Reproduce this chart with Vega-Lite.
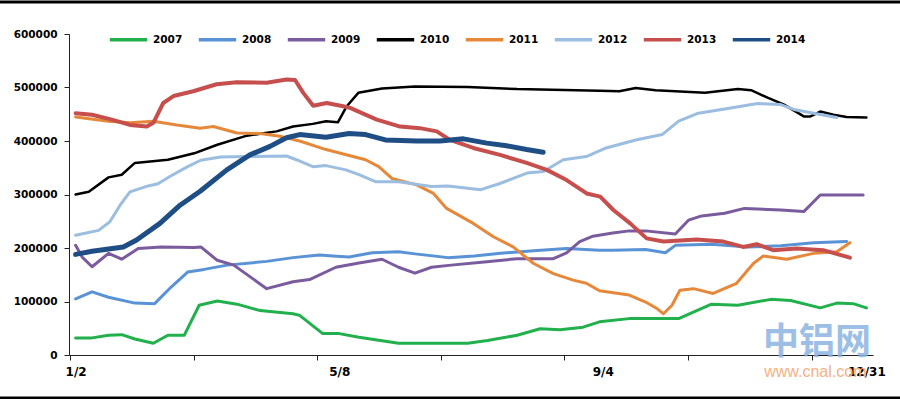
{
  "$schema": "https://vega.github.io/schema/vega-lite/v6.json",
  "width": 804,
  "height": 321,
  "autosize": {"type": "none"},
  "padding": {"left": 69, "top": 34, "right": 27, "bottom": 44},
  "background": "white",
  "config": {"view": {"stroke": null}},
  "datasets": {
    "stock": [
      {"year":"2007","day":2,"v":32000},{"year":"2007","day":7,"v":32000},{"year":"2007","day":12,"v":37000},{"year":"2007","day":16,"v":38000},{"year":"2007","day":20,"v":30000},{"year":"2007","day":25.6,"v":22000},{"year":"2007","day":30,"v":37000},{"year":"2007","day":35,"v":37000},{"year":"2007","day":39.5,"v":93000},{"year":"2007","day":45,"v":101000},{"year":"2007","day":51,"v":95000},{"year":"2007","day":58,"v":83000},{"year":"2007","day":68,"v":77000},{"year":"2007","day":70,"v":74000},{"year":"2007","day":77,"v":40000},{"year":"2007","day":82,"v":40000},{"year":"2007","day":88,"v":33000},{"year":"2007","day":100,"v":22000},{"year":"2007","day":121,"v":22000},{"year":"2007","day":127,"v":27000},{"year":"2007","day":136,"v":37000},{"year":"2007","day":143,"v":49000},{"year":"2007","day":149,"v":47000},{"year":"2007","day":156,"v":52000},{"year":"2007","day":161,"v":62000},{"year":"2007","day":170,"v":68000},{"year":"2007","day":185,"v":68000},{"year":"2007","day":195,"v":95000},{"year":"2007","day":203,"v":93000},{"year":"2007","day":213,"v":104000},{"year":"2007","day":219,"v":102000},{"year":"2007","day":228,"v":88000},{"year":"2007","day":233,"v":97000},{"year":"2007","day":238,"v":96000},{"year":"2007","day":242,"v":88000},

      {"year":"2008","day":2,"v":105000},{"year":"2008","day":7,"v":118000},{"year":"2008","day":12,"v":108000},{"year":"2008","day":20,"v":97000},{"year":"2008","day":26,"v":96000},{"year":"2008","day":31,"v":127000},{"year":"2008","day":36,"v":155000},{"year":"2008","day":41,"v":160000},{"year":"2008","day":48,"v":168000},{"year":"2008","day":60,"v":175000},{"year":"2008","day":68,"v":182000},{"year":"2008","day":76,"v":187000},{"year":"2008","day":80,"v":185000},{"year":"2008","day":85,"v":183000},{"year":"2008","day":92,"v":191000},{"year":"2008","day":100,"v":193000},{"year":"2008","day":105,"v":189000},{"year":"2008","day":115,"v":182000},{"year":"2008","day":123,"v":185000},{"year":"2008","day":131,"v":190000},{"year":"2008","day":141,"v":195000},{"year":"2008","day":151,"v":199000},{"year":"2008","day":161,"v":196000},{"year":"2008","day":165,"v":196000},{"year":"2008","day":175,"v":197000},{"year":"2008","day":181,"v":191000},{"year":"2008","day":184,"v":205000},{"year":"2008","day":195,"v":207000},{"year":"2008","day":206,"v":202000},{"year":"2008","day":216,"v":204000},{"year":"2008","day":226,"v":210000},{"year":"2008","day":236,"v":212000},

      {"year":"2009","day":2,"v":205000},{"year":"2009","day":4,"v":183000},{"year":"2009","day":7,"v":165000},{"year":"2009","day":12,"v":190000},{"year":"2009","day":16,"v":179000},{"year":"2009","day":21,"v":199000},{"year":"2009","day":28,"v":202000},{"year":"2009","day":38,"v":201000},{"year":"2009","day":40,"v":202000},{"year":"2009","day":45,"v":177000},{"year":"2009","day":50,"v":168000},{"year":"2009","day":55,"v":146000},{"year":"2009","day":60,"v":124000},{"year":"2009","day":68,"v":137000},{"year":"2009","day":73,"v":141000},{"year":"2009","day":81,"v":164000},{"year":"2009","day":88,"v":172000},{"year":"2009","day":95,"v":179000},{"year":"2009","day":100,"v":164000},{"year":"2009","day":105,"v":153000},{"year":"2009","day":110,"v":164000},{"year":"2009","day":116,"v":168000},{"year":"2009","day":126,"v":174000},{"year":"2009","day":136,"v":180000},{"year":"2009","day":147,"v":180000},{"year":"2009","day":151,"v":191000},{"year":"2009","day":155,"v":212000},{"year":"2009","day":159,"v":222000},{"year":"2009","day":165,"v":228000},{"year":"2009","day":170,"v":232000},{"year":"2009","day":175,"v":232000},{"year":"2009","day":184,"v":226000},{"year":"2009","day":188,"v":252000},{"year":"2009","day":192,"v":260000},{"year":"2009","day":199,"v":265000},{"year":"2009","day":205,"v":274000},{"year":"2009","day":216,"v":271000},{"year":"2009","day":223,"v":268000},{"year":"2009","day":228,"v":299000},{"year":"2009","day":241,"v":299000},

      {"year":"2010","day":2,"v":300000},{"year":"2010","day":6,"v":305000},{"year":"2010","day":12,"v":332000},{"year":"2010","day":16,"v":337000},{"year":"2010","day":20,"v":359000},{"year":"2010","day":30,"v":365000},{"year":"2010","day":38,"v":377000},{"year":"2010","day":45,"v":393000},{"year":"2010","day":54,"v":410000},{"year":"2010","day":63,"v":418000},{"year":"2010","day":68,"v":427000},{"year":"2010","day":74,"v":432000},{"year":"2010","day":78,"v":437000},{"year":"2010","day":81.6,"v":435000},{"year":"2010","day":84.3,"v":465000},{"year":"2010","day":87.8,"v":490000},{"year":"2010","day":95,"v":498000},{"year":"2010","day":105,"v":502000},{"year":"2010","day":121,"v":501000},{"year":"2010","day":136,"v":497000},{"year":"2010","day":161,"v":494000},{"year":"2010","day":167,"v":493000},{"year":"2010","day":172,"v":499000},{"year":"2010","day":178,"v":495000},{"year":"2010","day":193,"v":490000},{"year":"2010","day":203,"v":497000},{"year":"2010","day":207,"v":495000},{"year":"2010","day":212,"v":481000},{"year":"2010","day":217,"v":468000},{"year":"2010","day":223,"v":446000},{"year":"2010","day":225,"v":446000},{"year":"2010","day":228,"v":455000},{"year":"2010","day":232,"v":449000},{"year":"2010","day":236,"v":445000},{"year":"2010","day":242,"v":444000},

      {"year":"2011","day":2,"v":445000},{"year":"2011","day":12,"v":437000},{"year":"2011","day":18.5,"v":434000},{"year":"2011","day":25.6,"v":437000},{"year":"2011","day":32.7,"v":430000},{"year":"2011","day":39.8,"v":424000},{"year":"2011","day":43.8,"v":427000},{"year":"2011","day":51,"v":415000},{"year":"2011","day":58,"v":414000},{"year":"2011","day":64,"v":409000},{"year":"2011","day":70,"v":400000},{"year":"2011","day":78,"v":384000},{"year":"2011","day":90,"v":365000},{"year":"2011","day":94,"v":352000},{"year":"2011","day":98,"v":330000},{"year":"2011","day":105.5,"v":318000},{"year":"2011","day":110.6,"v":302000},{"year":"2011","day":114.6,"v":274000},{"year":"2011","day":122.7,"v":246000},{"year":"2011","day":128.8,"v":221000},{"year":"2011","day":134.8,"v":202000},{"year":"2011","day":141,"v":171000},{"year":"2011","day":147,"v":152000},{"year":"2011","day":153,"v":140000},{"year":"2011","day":157,"v":134000},{"year":"2011","day":161,"v":120000},{"year":"2011","day":170,"v":112000},{"year":"2011","day":175,"v":99000},{"year":"2011","day":178.4,"v":87000},{"year":"2011","day":180.4,"v":77000},{"year":"2011","day":183,"v":93000},{"year":"2011","day":185.4,"v":121000},{"year":"2011","day":189.5,"v":124000},{"year":"2011","day":195.5,"v":115000},{"year":"2011","day":202.6,"v":134000},{"year":"2011","day":207.7,"v":171000},{"year":"2011","day":210.7,"v":185000},{"year":"2011","day":217.8,"v":179000},{"year":"2011","day":226,"v":190000},{"year":"2011","day":233,"v":193000},{"year":"2011","day":237,"v":210000},

      {"year":"2012","day":2,"v":224000},{"year":"2012","day":9,"v":233000},{"year":"2012","day":12.4,"v":249000},{"year":"2012","day":15.5,"v":280000},{"year":"2012","day":18.5,"v":305000},{"year":"2012","day":24,"v":316000},{"year":"2012","day":27,"v":320000},{"year":"2012","day":31,"v":335000},{"year":"2012","day":36,"v":352000},{"year":"2012","day":40,"v":364000},{"year":"2012","day":46,"v":370000},{"year":"2012","day":54,"v":371000},{"year":"2012","day":66,"v":372000},{"year":"2012","day":69,"v":365000},{"year":"2012","day":74,"v":352000},{"year":"2012","day":78,"v":354000},{"year":"2012","day":84,"v":346000},{"year":"2012","day":88,"v":337000},{"year":"2012","day":93,"v":324000},{"year":"2012","day":100,"v":324000},{"year":"2012","day":110,"v":315000},{"year":"2012","day":115,"v":316000},{"year":"2012","day":125,"v":309000},{"year":"2012","day":131,"v":321000},{"year":"2012","day":139,"v":340000},{"year":"2012","day":144,"v":343000},{"year":"2012","day":150,"v":365000},{"year":"2012","day":157,"v":371000},{"year":"2012","day":163,"v":387000},{"year":"2012","day":172,"v":402000},{"year":"2012","day":180,"v":412000},{"year":"2012","day":185,"v":437000},{"year":"2012","day":191,"v":452000},{"year":"2012","day":199,"v":460000},{"year":"2012","day":209,"v":470000},{"year":"2012","day":216,"v":468000},{"year":"2012","day":220,"v":459000},{"year":"2012","day":226,"v":452000},{"year":"2012","day":233,"v":444000},

      {"year":"2013","day":2,"v":452000},{"year":"2013","day":7,"v":449000},{"year":"2013","day":13,"v":440000},{"year":"2013","day":18.5,"v":430000},{"year":"2013","day":23.6,"v":427000},{"year":"2013","day":25.6,"v":434000},{"year":"2013","day":28.6,"v":471000},{"year":"2013","day":31.7,"v":484000},{"year":"2013","day":37.7,"v":493000},{"year":"2013","day":44.8,"v":506000},{"year":"2013","day":50.9,"v":510000},{"year":"2013","day":60,"v":509000},{"year":"2013","day":66,"v":515000},{"year":"2013","day":68.6,"v":514000},{"year":"2013","day":71.1,"v":490000},{"year":"2013","day":74.1,"v":466000},{"year":"2013","day":78.2,"v":471000},{"year":"2013","day":83.2,"v":465000},{"year":"2013","day":85.3,"v":462000},{"year":"2013","day":93.4,"v":440000},{"year":"2013","day":100.5,"v":427000},{"year":"2013","day":106.5,"v":424000},{"year":"2013","day":111.6,"v":418000},{"year":"2013","day":115.6,"v":402000},{"year":"2013","day":122.7,"v":387000},{"year":"2013","day":130.8,"v":374000},{"year":"2013","day":138.9,"v":359000},{"year":"2013","day":145,"v":346000},{"year":"2013","day":151,"v":327000},{"year":"2013","day":157.1,"v":302000},{"year":"2013","day":161.2,"v":296000},{"year":"2013","day":165.2,"v":271000},{"year":"2013","day":170.3,"v":246000},{"year":"2013","day":175.3,"v":218000},{"year":"2013","day":180.4,"v":212000},{"year":"2013","day":190.5,"v":216000},{"year":"2013","day":198.6,"v":212000},{"year":"2013","day":204.6,"v":202000},{"year":"2013","day":208.7,"v":207000},{"year":"2013","day":213.7,"v":196000},{"year":"2013","day":220.8,"v":199000},{"year":"2013","day":228.9,"v":196000},{"year":"2013","day":237,"v":182000},

      {"year":"2014","day":2,"v":188000},{"year":"2014","day":7,"v":194000},{"year":"2014","day":16.5,"v":202000},{"year":"2014","day":20.5,"v":215000},{"year":"2014","day":27.6,"v":246000},{"year":"2014","day":33.7,"v":280000},{"year":"2014","day":39.8,"v":306000},{"year":"2014","day":47.9,"v":346000},{"year":"2014","day":54.9,"v":374000},{"year":"2014","day":61,"v":390000},{"year":"2014","day":66,"v":406000},{"year":"2014","day":70,"v":412000},{"year":"2014","day":78,"v":407000},{"year":"2014","day":85,"v":414000},{"year":"2014","day":90,"v":412000},{"year":"2014","day":96,"v":402000},{"year":"2014","day":105.5,"v":400000},{"year":"2014","day":112.6,"v":400000},{"year":"2014","day":119.7,"v":404000},{"year":"2014","day":126.8,"v":396000},{"year":"2014","day":132.8,"v":391000},{"year":"2014","day":138.9,"v":384000},{"year":"2014","day":143.9,"v":379000}
    ]
  },
  "layer": [
    {
      "data": {"values": [{"t": "中铝网"}]},
      "mark": {"type": "text", "font": "Noto Sans CJK SC", "fontWeight": "bold", "fontSize": 36, "color": "#8DB4E2", "opacity": 0.85, "baseline": "middle", "align": "center"},
      "encoding": {
        "x": {"datum": 227},
        "y": {"datum": 23000},
        "text": {"field": "t"}
      }
    },
    {
      "data": {"values": [{"t": "www.cnal.com"}]},
      "mark": {"type": "text", "font": "Liberation Sans", "fontSize": 16, "color": "#F4B183", "baseline": "middle", "align": "center"},
      "encoding": {
        "x": {"datum": 226.5},
        "y": {"datum": -32000},
        "text": {"field": "t"}
      }
    },
    {
      "data": {"name": "stock"},
      "mark": {"type": "line", "strokeJoin": "round", "strokeCap": "round"},
      "encoding": {
        "x": {
          "field": "day", "type": "quantitative",
          "scale": {"domain": [0, 244], "nice": false, "zero": false},
          "axis": {
            "title": null, "grid": false,
            "values": [0.3, 2, 37.8, 75.3, 82, 112.8, 150.3, 162, 187.9, 225.4, 242],
            "labelExpr": "datum.value == 2 ? '1/2' : datum.value == 82 ? '5/8' : datum.value == 162 ? '9/4' : datum.value == 242 ? '12/31' : ''",
            "labelOverlap": false, "labelFlush": false, "labelBound": false,
            "tickOpacity": {"condition": {"test": "datum.value == 2 || datum.value == 82 || datum.value == 162 || datum.value == 242", "value": 0}, "value": 1},
            "tickSize": 5, "tickColor": "#222222", "domainColor": "#222222",
            "labelFont": "DejaVu Sans", "labelFontWeight": "bold", "labelFontSize": 12, "labelColor": "#000000", "labelPadding": 6
          }
        },
        "y": {
          "field": "v", "type": "quantitative",
          "scale": {"domain": [0, 600000], "nice": false},
          "axis": {
            "title": null, "grid": false,
            "values": [0, 100000, 200000, 300000, 400000, 500000, 600000],
            "format": "d",
            "tickSize": 5, "tickColor": "#222222", "domainColor": "#222222",
            "labelFont": "DejaVu Sans", "labelFontWeight": "bold", "labelFontSize": 10.5, "labelColor": "#000000", "labelPadding": 7
          }
        },
        "color": {
          "field": "year", "type": "nominal",
          "scale": {
            "domain": ["2007", "2008", "2009", "2010", "2011", "2012", "2013", "2014"],
            "range": ["#21B04B", "#5993D6", "#7A5C9E", "#000000", "#E6883A", "#9BBDE0", "#C64F4D", "#1F4E85"]
          },
          "legend": {
            "title": null, "orient": "none", "direction": "horizontal",
            "legendX": 39, "legendY": -15,
            "symbolType": "stroke", "symbolSize": 1400, "symbolStrokeWidth": 3.5,
            "labelFont": "DejaVu Sans", "labelFontWeight": "bold", "labelFontSize": 10.5, "labelColor": "#000000",
            "labelOffset": 4, "columnPadding": 8, "padding": 0
          }
        },
        "strokeWidth": {
          "condition": [
            {"test": "datum.year === '2014'", "value": 5},
            {"test": "datum.year === '2013'", "value": 4},
            {"test": "datum.year === '2010'", "value": 2.5}
          ],
          "value": 3
        }
      }
    },
    {
      "data": {"values": [{"edge": "top"}]},
      "mark": {"type": "rule", "color": "#000000", "strokeWidth": 3},
      "encoding": {"x": {"datum": -21}, "x2": {"datum": 253}, "y": {"datum": 660000}}
    },
    {
      "data": {"values": [{"edge": "bottom"}]},
      "mark": {"type": "rule", "color": "#000000", "strokeWidth": 3.5},
      "encoding": {"x": {"datum": -21}, "x2": {"datum": 253}, "y": {"datum": -80700}}
    }
  ]
}
